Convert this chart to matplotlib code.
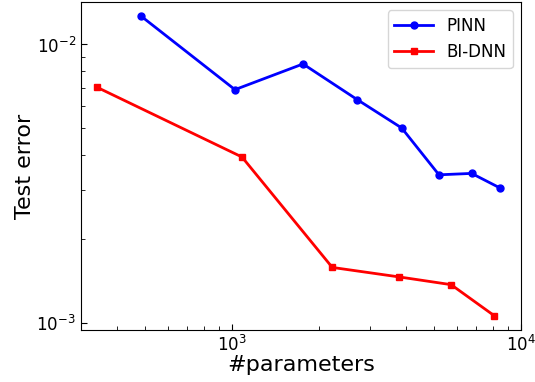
import numpy as np
import matplotlib.pyplot as plt

# number of trainable parameters vs. test error
pinn_params = [484, 1024, 1761, 2715, 3864, 5200, 6745, 8450]
pinn_err = [0.01266, 0.00688, 0.00851, 0.00633, 0.00501, 0.00340, 0.00344, 0.00305]

bidnn_params = [341, 1083, 2223, 3795, 5727, 8072]
bidnn_err = [0.00702, 0.00394, 0.00158, 0.00146, 0.00137, 0.00106]

fig = plt.figure(figsize=(5.35, 3.82), dpi=100)
ax = fig.add_axes([0.151, 0.136, 0.823, 0.859])

ax.plot(pinn_params, pinn_err, '-o', color='blue', lw=2, ms=5, label='PINN')
ax.plot(bidnn_params, bidnn_err, '-s', color='red', lw=2, ms=5, label='BI-DNN')

ax.set_xscale('log')
ax.set_yscale('log')
ax.set_xlim(300, 1e4)
ax.set_ylim(0.000941, 0.01422)

ax.tick_params(which='both', direction='in', labelsize=12)
ax.tick_params(which='major', length=4)
ax.tick_params(which='minor', length=3)

ax.set_xlabel('#parameters', fontsize=16, labelpad=0)
ax.set_ylabel('Test error', fontsize=16, labelpad=1)
ax.legend(fontsize=12, loc='upper right', handlelength=2.3)

fig.savefig('out.png', dpi=100)
